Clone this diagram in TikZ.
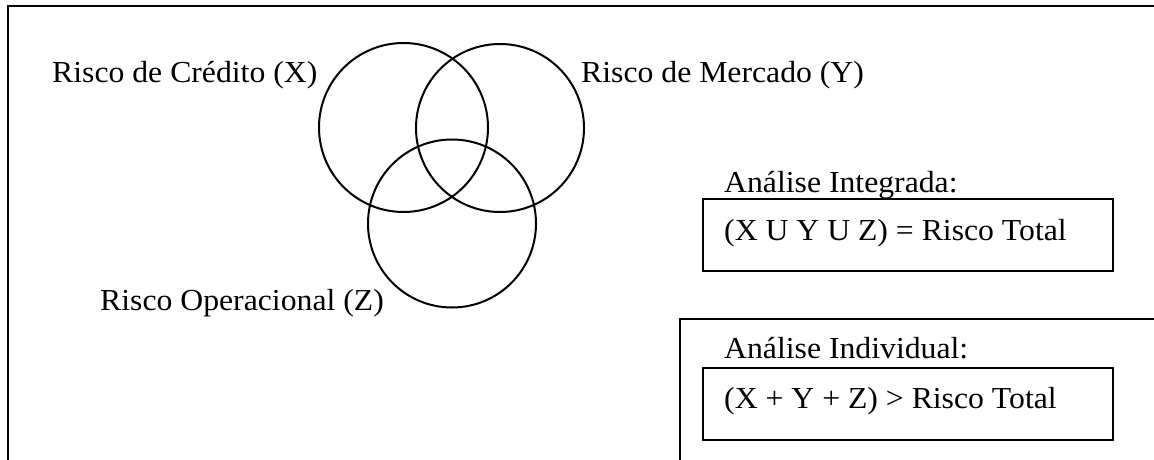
\documentclass[tikz,border=0pt]{standalone}
\usepackage{fontspec}
\setmainfont{Liberation Serif}[FakeStretch=1.04]
\begin{document}
\begin{tikzpicture}[x=1pt,y=-1pt,
  frame/.style={line width=2pt},
  venn/.style={line width=2pt},
  lbl/.style={anchor=base west,inner sep=0pt,font=\fontsize{30.5}{36}\selectfont}]
\useasboundingbox (0,0) rectangle (1154,460);
% outer frames
\draw[frame] (8,460) -- (8,6) -- (1154,6);
\draw[frame] (680,460) -- (680,319) -- (1154,319);
% inner boxes
\draw[frame] (703,199) rectangle (1113,271);
\draw[frame] (703,368) rectangle (1113,440);
% circles
\draw[venn] (403.5,127.5) circle[radius=84.5];
\draw[venn] (500,128) circle[radius=84];
\draw[venn] (452,223.5) circle[radius=84];
% labels
\node[lbl] (cx) at (52,83) {Risco de Crédito (X)};
\node[lbl] (cy) at (581,83) {Risco de Mercado (Y)};
\node[lbl] (cz) at (100,310) {Risco Operacional (Z)};
\node[lbl] (ai) at (724,192) {Análise Integrada:};
\node[lbl] (fi) at (724,240) {(X U Y U Z) = Risco Total};
\node[lbl] (ad) at (724,358) {Análise Individual:};
\node[lbl] (fd) at (724,408) {(X + Y + Z) > Risco Total};
\end{tikzpicture}
\end{document}
